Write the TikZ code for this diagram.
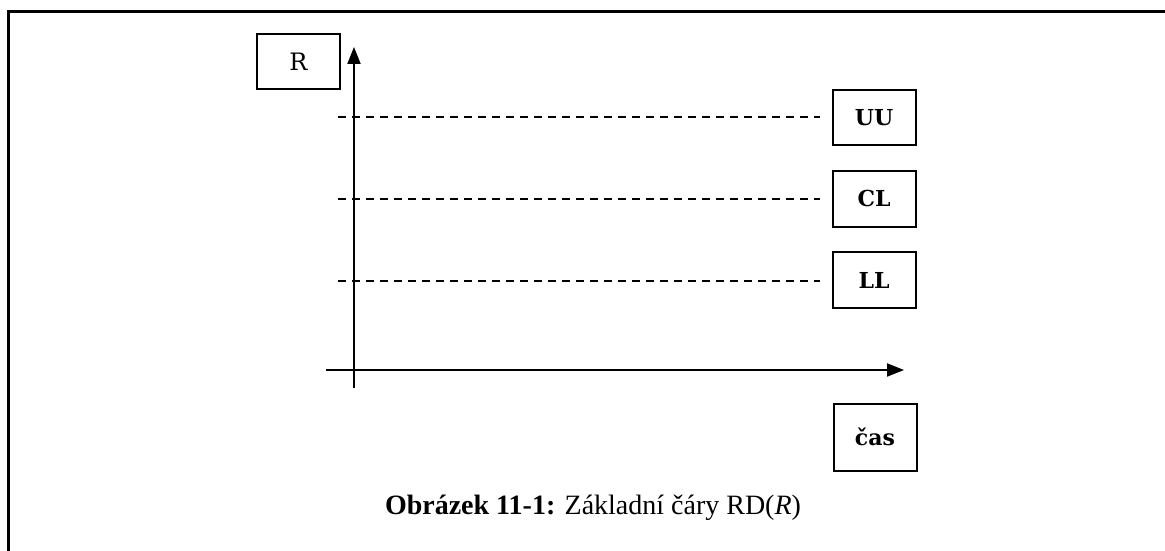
\documentclass[tikz,border=0pt]{standalone}
\usepackage{fontspec}
\setmainfont{Liberation Serif}
\newfontfamily\lblfont{DejaVu Serif}
\usetikzlibrary{arrows.meta}
\begin{document}
\begin{tikzpicture}[x=1pt,y=-1pt,
  labelbox/.style={draw,line width=2pt,inner sep=0pt,font=\lblfont\bfseries\fontsize{22}{26}\selectfont},
  axis/.style={line width=2pt,-{Triangle[length=17pt,width=13pt]}},
  level/.style={line width=2pt,dash pattern=on 8pt off 6pt}]
\useasboundingbox (0,0) rectangle (1165,551);
% frame (top and left edges)
\draw[line width=3pt] (8,600) -- (8,12) -- (1200,12);
% boxes
\node[labelbox,minimum width=83pt,minimum height=55pt,font=\lblfont\fontsize{24}{28}\selectfont] (r) at (298.5,61.5) {R};
\node[labelbox,minimum width=83pt,minimum height=55pt] (uu) at (874,117.5) {UU};
\node[labelbox,minimum width=83pt,minimum height=56pt] (cl) at (874,198.5) {CL};
\node[labelbox,minimum width=83pt,minimum height=56pt] (ll) at (874,280) {LL};
\node[labelbox,minimum width=83pt,minimum height=67pt] (cas) at (875,437) {čas};
% axes
\coordinate (ybot) at (354,388);
\coordinate (ytop) at (354,47);
\coordinate (xleft) at (326,370);
\coordinate (xright) at (904,370);
\draw[axis] (ybot) -- (ytop);
\draw[axis] (xleft) -- (xright);
% control levels
\coordinate (uus) at (338,117);
\coordinate (cls) at (338,199);
\coordinate (lls) at (338,281);
\draw[level] (uus) -- ([xshift=-12pt]uu.west |- uus);
\draw[level] (cls) -- ([xshift=-12pt]cl.west |- cls);
\draw[level] (lls) -- ([xshift=-12pt]ll.west |- lls);
% caption
\node[anchor=base,inner sep=0pt,font=\fontsize{28}{32}\selectfont] (cap) at (593,514) {\textbf{Obrázek 11-1:} Základní čáry RD(\textit{R})};
\end{tikzpicture}
\end{document}
